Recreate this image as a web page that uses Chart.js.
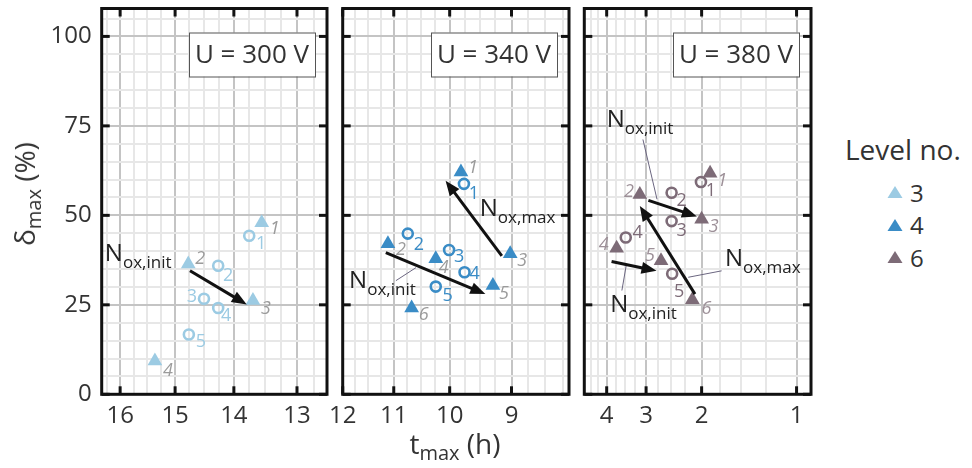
<!DOCTYPE html>
<html>
<head>
<meta charset="utf-8">
<script src="https://cdn.jsdelivr.net/npm/chart.js@4.4.1/dist/chart.umd.min.js"></script>
<style>
  body { margin: 0; background: #fff; font-family: 'Open Sans', sans-serif; color: #333; }
  #wrap { position: relative; width: 972px; height: 468px; overflow: hidden; }
  canvas { position: absolute; top: 0; }
  .title { position: absolute; white-space: nowrap; font-size: 28px; line-height: 1; }
  .title sub { font-size: 20px; vertical-align: -6px; line-height: 1; }
  #ytitle { left: 27px; top: 194px; transform: translate(-50%, -50%) rotate(-90deg); }
  #xtitle { left: 455px; top: 446px; transform: translate(-50%, -50%); }
  #legend-title { position: absolute; left: 845px; top: 133px; font-size: 28px; line-height: 1.2; }
  .leg { position: absolute; left: 887px; height: 30px; display: flex; align-items: center; font-size: 24px; }
  .leg svg { margin-right: 7px; }
</style>
</head>
<body>
<div id="wrap">
  <canvas id="p0" width="340" height="468" style="left:0px"></canvas>
  <canvas id="p1" width="250" height="468" style="left:330px"></canvas>
  <canvas id="p2" width="250" height="468" style="left:575px"></canvas>
  <div id="ytitle" class="title">δ<sub>max</sub> (%)</div>
  <div id="xtitle" class="title">t<sub>max</sub> (h)</div>
  <div id="legend-title">Level no.</div>
  <div id="legend"></div>
</div>
<script>
const voltages = ['U = 300 V', 'U = 340 V', 'U = 380 V'];
const levels = ['3', '4', '6'];
const levelColors = ['#9ccbe3', '#3a8cc6', '#7d6b77'];
const xTicks = [[16, 15, 14, 13], [12, 11, 10, 9], [4, 3, 2, 1]];
const xRanges = [[12.55, 16.35], [8.16, 12.0], [0.9, 4.71]];
const yTicks = [0, 25, 50, 75, 100];
const yMax = 107.8;

// U = 300 V, level 3 (triangles and circles are numbered 1..n)
const tri300T = [13.55, 14.77, 13.69, 15.36];
const tri300D = [47.9, 36.4, 26.2, 9.3];
const circ300T = [13.75, 14.26, 14.50, 14.26, 14.76];
const circ300D = [44.3, 35.9, 26.7, 24.1, 16.7];

// U = 340 V, level 4
const tri340T = [9.81, 11.11, 9.02, 10.24, 9.29, 10.67];
const tri340D = [62.1, 42.1, 39.3, 37.9, 30.4, 24.1];
const circ340T = [9.76, 10.74, 10.01, 9.75, 10.24];
const circ340D = [58.8, 44.9, 40.3, 34.1, 30.1];

// U = 380 V, level 6
const tri380T = [1.88, 3.14, 2.0, 3.72, 2.69, 2.14];
const tri380D = [61.8, 55.8, 48.9, 40.8, 37.3, 26.4];
const circ380T = [2.01, 2.49, 2.49, 3.48, 2.48];
const circ380D = [59.3, 56.3, 48.4, 43.8, 33.7];

// arrows [t0, d0, t1, d1] and their N labels [t, d, subscript]
const arrows = [
  [[14.74, 34.5, 13.79, 25.1]],
  [[9.15, 38.7, 10.07, 59.7], [11.15, 39.6, 9.41, 28.0]],
  [[2.95, 54.2, 2.07, 49.7], [3.86, 37.1, 2.78, 34.5], [2.10, 28.0, 3.14, 52.6]]
];
const nLabels = [
  [[16.29, 37.3, 'ox,init']],
  [[9.50, 49.8, 'ox,max'], [11.87, 29.8, 'ox,init']],
  [[4.0, 74.8, 'ox,init'], [1.687, 35.9, 'ox,max'], [3.90, 22.9, 'ox,init']]
];
const leaders = [
  [],
  [[10.96, 31.75, 10.59, 35.4]],
  [[3.07, 71.2, 2.77, 54.5], [2.205, 32.7, 1.728, 34.5], [3.58, 29.0, 3.47, 35.9]]
];

const panels = [
  { triT: tri300T, triD: tri300D, circT: circ300T, circD: circ300D },
  { triT: tri340T, triD: tri340D, circT: circ340T, circD: circ340D },
  { triT: tri380T, triD: tri380D, circT: circ380T, circD: circ380D }
];

// pixel offsets of the point numbers
const triNumOffset = [
  [[13, 6], [12, -5], [13, 8], [13, 10]],
  [[12, -4], [13, 6], [12, 7], [8, 9], [11, 8], [12, 7]],
  [[12, 8], [-11, -3], [12, 8], [-13, -3], [-11, -5], [14, 9]]
];
const circNumOffset = [
  [[12, 8], [10, 10], [-12, -2], [8, 8], [12, 7]],
  [[10, 10], [11, 11], [10, 7], [10, 2], [12, 9]],
  [[10, 9], [10, 8], [10, 10], [12, -5], [7, 18]]
];
const triNumColor = ['#9b9b9b', '#9b9b9b', '#9d9098'];

// canvas layout: padding so the three plot frames line up
const pads = [
  { left: 0, right: 13 },
  { left: 12.7, right: 11 },
  { left: 9.3, right: 14 }
];

const FONT = '"Open Sans", sans-serif';
const MAJOR = '#c4c4c4', MINOR = '#e7e7e7';

function quarterTicks(min, max) {
  const out = [];
  for (let v = Math.ceil(min * 4) / 4; v <= max; v += 0.25) out.push({ value: v });
  return out;
}

function line(ctx, x0, y0, x1, y1) {
  ctx.beginPath(); ctx.moveTo(x0, y0); ctx.lineTo(x1, y1); ctx.stroke();
}

function arrow(ctx, x0, y0, x1, y1) {
  const ang = Math.atan2(y1 - y0, x1 - x0), len = 15, half = 6;
  const bx = x1 - Math.cos(ang) * len, by = y1 - Math.sin(ang) * len;
  ctx.strokeStyle = '#111'; ctx.fillStyle = '#111'; ctx.lineWidth = 3;
  line(ctx, x0, y0, bx + Math.cos(ang) * 2, by + Math.sin(ang) * 2);
  ctx.beginPath();
  ctx.moveTo(x1, y1);
  ctx.lineTo(bx - Math.sin(ang) * half, by + Math.cos(ang) * half);
  ctx.lineTo(bx + Math.sin(ang) * half, by - Math.cos(ang) * half);
  ctx.closePath(); ctx.fill();
}

function subText(ctx, x, y, main, sub) {
  ctx.fillStyle = '#222';
  ctx.textAlign = 'left'; ctx.textBaseline = 'alphabetic';
  ctx.font = '24px ' + FONT;
  ctx.fillText(main, x, y);
  const w = ctx.measureText(main).width;
  ctx.font = '17px ' + FONT;
  ctx.fillText(sub, x + w, y + 7);
}

function makePanel(i) {
  const p = panels[i], color = levelColors[i];
  const [xmin, xmax] = xRanges[i];

  const decor = {
    id: 'decor' + i,
    afterDatasetsDraw(chart) {
      const ctx = chart.ctx, a = chart.chartArea;
      const sx = v => chart.scales.x.getPixelForValue(v);
      const sy = v => chart.scales.y.getPixelForValue(v);
      ctx.save();

      // thin leaders from the labels to the arrows
      ctx.strokeStyle = '#6b6680'; ctx.lineWidth = 1;
      leaders[i].forEach(l => line(ctx, sx(l[0]), sy(l[1]), sx(l[2]), sy(l[3])));

      arrows[i].forEach(r => arrow(ctx, sx(r[0]), sy(r[1]), sx(r[2]), sy(r[3])));
      nLabels[i].forEach(n => subText(ctx, sx(n[0]), sy(n[1]), 'N', n[2]));

      // point numbers
      ctx.textAlign = 'center'; ctx.textBaseline = 'middle';
      ctx.font = 'italic 18px ' + FONT; ctx.fillStyle = triNumColor[i];
      p.triT.forEach((t, k) => {
        const o = triNumOffset[i][k];
        ctx.fillText(String(k + 1), sx(t) + o[0], sy(p.triD[k]) + o[1]);
      });
      ctx.font = '18px ' + FONT; ctx.fillStyle = color;
      p.circT.forEach((t, k) => {
        const o = circNumOffset[i][k];
        ctx.fillText(String(k + 1), sx(t) + o[0], sy(p.circD[k]) + o[1]);
      });

      // frame with inward ticks
      ctx.strokeStyle = '#111'; ctx.lineWidth = 3;
      ctx.strokeRect(a.left, a.top, a.right - a.left, a.bottom - a.top);
      xTicks[i].forEach(v => {
        const px = sx(v);
        line(ctx, px, a.bottom, px, a.bottom - 8);
        line(ctx, px, a.top, px, a.top + 8);
      });
      yTicks.forEach(v => {
        const py = sy(v);
        line(ctx, a.left, py, a.left + 8, py);
        line(ctx, a.right, py, a.right - 8, py);
      });

      // voltage box
      const bw = 126, bh = 44, bx = a.right - 12 - bw, by = a.top + 24;
      ctx.fillStyle = '#fff'; ctx.fillRect(bx, by, bw, bh);
      ctx.strokeStyle = '#555'; ctx.lineWidth = 1;
      ctx.strokeRect(bx + 0.5, by + 0.5, bw, bh);
      ctx.fillStyle = '#333'; ctx.font = '26px ' + FONT;
      ctx.textAlign = 'center'; ctx.textBaseline = 'middle';
      ctx.fillText(voltages[i], bx + bw / 2, by + bh / 2 + 1);
      ctx.restore();
    }
  };

  new Chart(document.getElementById('p' + i), {
    type: 'scatter',
    data: {
      datasets: [
        {
          label: 'Level ' + levels[i],
          data: p.triT.map((t, k) => ({ x: t, y: p.triD[k] })),
          pointStyle: 'triangle', pointRadius: 8.5,
          backgroundColor: color, borderColor: color, borderWidth: 0
        },
        {
          label: 'Level ' + levels[i] + ' (o)',
          data: p.circT.map((t, k) => ({ x: t, y: p.circD[k] })),
          pointStyle: 'circle', pointRadius: 5,
          backgroundColor: 'rgba(255,255,255,0)', borderColor: color, borderWidth: 2.6
        }
      ]
    },
    options: {
      responsive: false, animation: false, devicePixelRatio: 1,
      layout: { padding: { left: pads[i].left, right: pads[i].right, top: 6, bottom: 0 } },
      plugins: { legend: { display: false }, tooltip: { enabled: false } },
      scales: {
        x: {
          type: 'logarithmic', reverse: true, min: xmin, max: xmax,
          afterBuildTicks: s => { s.ticks = quarterTicks(xmin, xmax); },
          afterFit: s => { s.height = 73.7; s.paddingLeft = 0; s.paddingRight = 0; },
          border: { display: false },
          grid: {
            drawTicks: false, lineWidth: 2,
            color: c => (c.tick && Number.isInteger(c.tick.value)) ? MAJOR : MINOR
          },
          ticks: {
            autoSkip: false, maxRotation: 0, padding: 7, color: '#333',
            font: { family: FONT, size: 24 },
            callback: v => Number.isInteger(v) ? String(v) : ''
          }
        },
        y: {
          min: 0, max: yMax,
          afterBuildTicks: s => {
            const t = [];
            for (let v = 0; v < yMax; v += 5) t.push({ value: v });
            s.ticks = t;
          },
          afterFit: s => { s.width = i === 0 ? 101.7 : 0; s.paddingTop = 0; s.paddingBottom = 0; },
          border: { display: false },
          grid: {
            drawTicks: false, lineWidth: 2,
            color: c => (c.tick && c.tick.value % 25 === 0) ? MAJOR : MINOR
          },
          ticks: {
            display: i === 0, autoSkip: false, padding: 10, color: '#333',
            font: { family: FONT, size: 24 },
            callback: v => (v % 25 === 0) ? String(v) : ''
          }
        }
      }
    },
    plugins: [decor]
  });
}

[0, 1, 2].forEach(makePanel);

// legend of the level numbers
const legend = document.getElementById('legend');
levels.forEach((lv, k) => {
  const row = document.createElement('div');
  row.className = 'leg';
  row.style.top = (177 + k * 32.5) + 'px';
  row.innerHTML = '<svg width="16" height="14"><polygon points="8,1 15.5,13 0.5,13" fill="' +
    levelColors[k] + '"/></svg><span>' + lv + '</span>';
  legend.appendChild(row);
});
</script>
</body>
</html>
